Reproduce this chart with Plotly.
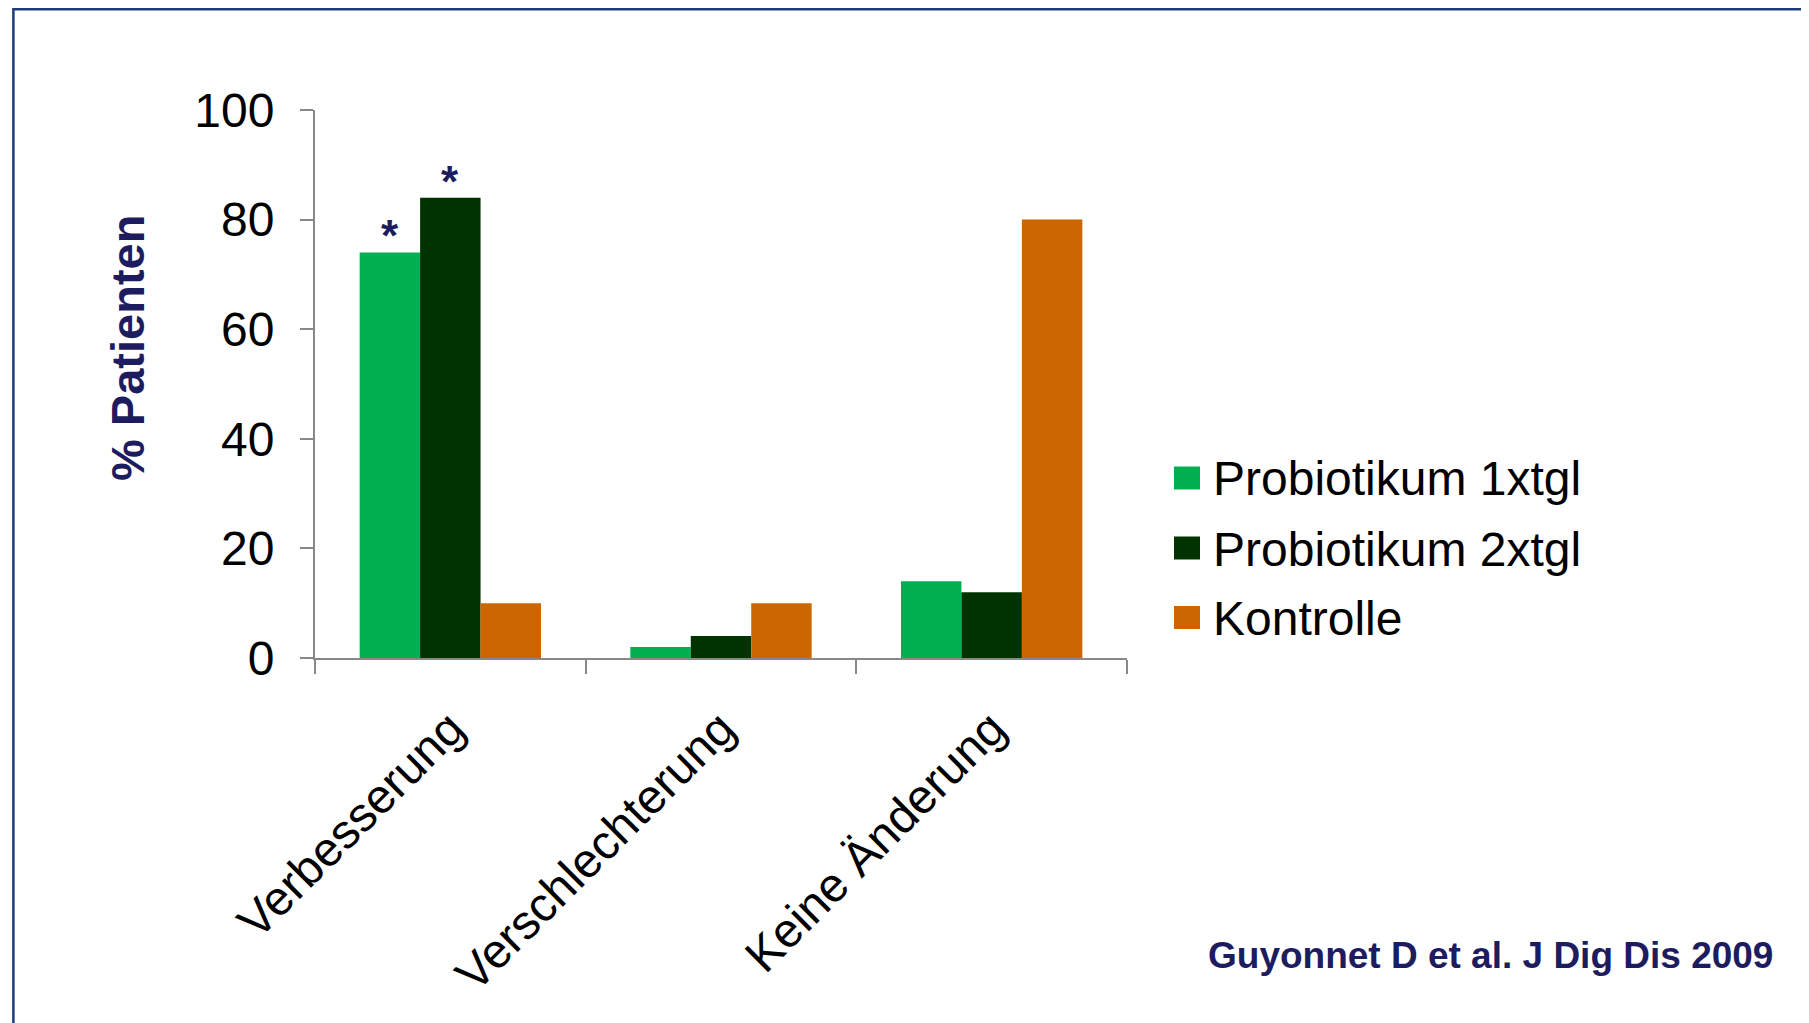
import plotly.graph_objects as go

categories = ["Verbesserung", "Verschlechterung", "Keine Änderung"]
series_names = ["Probiotikum 1xtgl", "Probiotikum 2xtgl", "Kontrolle"]
probiotikum_1x = [74, 2, 14]
probiotikum_2x = [84, 4, 12]
kontrolle = [10, 10, 80]
y_ticks = [0, 20, 40, 60, 80, 100]
significance = [["*", "", ""], ["*", "", ""], ["", "", ""]]  # per series, per category
citation = "Guyonnet D et al. J Dig Dis 2009"
y_title = "% Patienten"

colors = ["#00B050", "#003300", "#CC6600"]
navy = "#1C1C5E"
font_family = "Liberation Sans, Arial, sans-serif"

W, H = 1809, 1023
L, R_px, T, B_px = 307, 1119, 102, 650
BARGAP = 0.33
pw, ph = R_px - L, B_px - T


def px(xp):
    return (xp - L) / pw


def py(yp):
    return (B_px - yp) / ph


fig = go.Figure()
series_values = [probiotikum_1x, probiotikum_2x, kontrolle]
for i, (name, vals) in enumerate(zip(series_names, series_values)):
    fig.add_trace(go.Bar(x=categories, y=vals, name=name, marker_color=colors[i],
                         marker_line_width=0, showlegend=False))

# significance asterisks above bars
n = len(series_names)
bw = (1 - BARGAP) / n
annotations = []
for si in range(n):
    for ci, cat in enumerate(categories):
        mark = significance[si][ci]
        if mark:
            annotations.append(dict(
                x=ci + (si - (n - 1) / 2) * bw, y=series_values[si][ci],
                xref="x", yref="y", text=f"<b>{mark}</b>", showarrow=False,
                yanchor="bottom", yshift=-10,
                font=dict(family=font_family, size=44, color=navy)))

# y-axis title and citation
annotations.append(dict(
    x=px(119), y=py(340), xref="paper", yref="paper",
    text=f"<b>{y_title}</b>", textangle=-90, showarrow=False,
    xanchor="center", yanchor="middle",
    font=dict(family=font_family, size=47, color=navy)))
annotations.append(dict(
    x=px(1767), y=py(947), xref="paper", yref="paper",
    text=f"<b>{citation}</b>", showarrow=False, xanchor="right", yanchor="middle",
    font=dict(family=font_family, size=37, color=navy)))

# legend (drawn as swatches + labels for large square keys)
shapes = []
legend_rows_y = [470, 540, 609.5]
for i, name in enumerate(series_names):
    yc = legend_rows_y[i]
    shapes.append(dict(type="rect", xref="paper", yref="paper",
                       x0=px(1166), x1=px(1192), y0=py(yc + 11.5), y1=py(yc - 11.5),
                       fillcolor=colors[i], line=dict(width=0)))
    annotations.append(dict(x=px(1203), y=py(yc + 1), xref="paper", yref="paper",
                            text=name, showarrow=False, xanchor="left", yanchor="middle",
                            font=dict(family=font_family, size=48, color="black")))

shapes.append(dict(type="rect", xref="paper", yref="paper",
                   x0=px(5.4), x1=px(1830), y0=py(1040), y1=py(1.2),
                   line=dict(color="#1F3A7A", width=2.5), fillcolor="rgba(0,0,0,0)",
                   layer="below"))

fig.update_layout(
    width=W, height=H,
    margin=dict(l=L, r=W - R_px, t=T, b=H - B_px, autoexpand=False),
    paper_bgcolor="white", plot_bgcolor="white",
    barmode="group", bargap=BARGAP, bargroupgap=0,
    font=dict(family=font_family, color="black"),
    annotations=annotations, shapes=shapes, showlegend=False,
)
fig.update_xaxes(type="category", showline=True, linecolor="#888888", linewidth=2,
                 ticks="outside", tickson="boundaries", ticklen=14, tickcolor="#888888",
                 tickwidth=2, tickangle=-45, showgrid=False, zeroline=False,
                 tickfont=dict(size=48, family=font_family, color="black"),
                 ticklabelstandoff=21)
fig.update_yaxes(range=[0, 100], tickvals=y_ticks, showline=True, linecolor="#888888",
                 linewidth=2, ticks="outside", ticklen=13, tickcolor="#888888",
                 tickwidth=2, showgrid=False, zeroline=False,
                 tickfont=dict(size=48, family=font_family, color="black"),
                 ticklabelstandoff=16)

fig.write_html("out.html")
